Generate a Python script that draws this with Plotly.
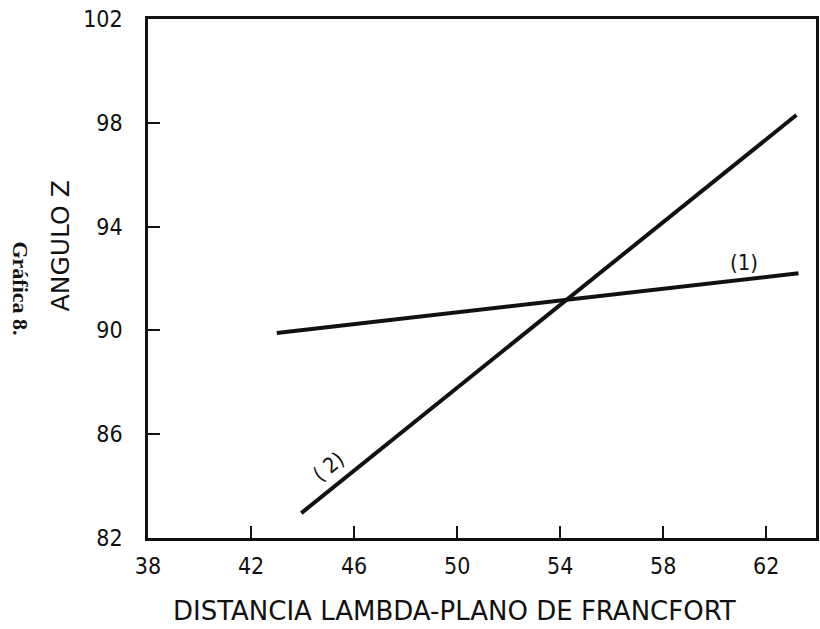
import plotly.graph_objects as go

# Regression lines: Angulo Z vs. distancia lambda-plano de Francfort
line1_x = [43.0, 63.25]
line1_y = [89.9, 92.2]
line2_x = [43.95, 63.17]
line2_y = [82.96, 98.3]

x_ticks = [38, 42, 46, 50, 54, 58, 62]
y_ticks = [82, 86, 90, 94, 98, 102]

INK = "#111111"
TICKFONT = "DejaVu Sans Condensed, Liberation Sans Narrow, sans-serif"
TITLEFONT = "DejaVu Sans, sans-serif"

fig = go.Figure()
for xs, ys in [(line1_x, line1_y), (line2_x, line2_y)]:
    fig.add_trace(go.Scatter(x=xs, y=ys, mode="lines",
                             line=dict(color=INK, width=4),
                             showlegend=False, hoverinfo="skip"))

axis_common = dict(
    showgrid=False, zeroline=False, showline=True, linecolor=INK,
    linewidth=2.5, mirror=True, ticks="inside", tickcolor=INK,
    tickwidth=1.5, ticklen=12,
    tickfont=dict(family=TICKFONT, size=23, color=INK),
)

fig.update_xaxes(range=[38, 63.93], tickvals=x_ticks,
                 ticktext=[str(v) for v in x_ticks],
                 ticklabelstandoff=6, **axis_common)
fig.update_yaxes(range=[82, 102], tickvals=y_ticks,
                 ticktext=[str(v) for v in y_ticks],
                 ticklabelstandoff=18, **axis_common)

annotations = [
    # series labels
    dict(x=61.15, y=92.6, xref="x", yref="y", text="(1)", showarrow=False,
         font=dict(family=TICKFONT, size=22, color=INK)),
    dict(x=45.0, y=84.75, xref="x", yref="y", text="( 2)", showarrow=False,
         textangle=-38.6, font=dict(family=TICKFONT, size=21, color=INK)),
    # axis titles
    dict(x=456, y=611, text="DISTANCIA LAMBDA-PLANO DE FRANCFORT",
         showarrow=False, font=dict(family=TITLEFONT, size=26, color=INK)),
    dict(x=60, y=246, text="ANGULO Z", showarrow=False, textangle=-90,
         font=dict(family=TITLEFONT, size=25, color=INK)),
    # figure caption
    dict(x=19, y=288, text="<b>Gráfica 8.</b>", showarrow=False, textangle=90,
         font=dict(family="Liberation Serif, serif", size=22, color=INK)),
]

# place titles and caption in pixel terms, converted to paper coordinates
W, H = 820, 629
L, R, T, B = 148, 1, 19, 91
pw, ph = W - L - R, H - T - B
for a in annotations[2:]:
    a["x"] = (a["x"] - L) / pw
    a["y"] = 1 - (a["y"] - T) / ph
    a["xref"] = "paper"
    a["yref"] = "paper"
    a["xanchor"] = "center"
    a["yanchor"] = "middle"

fig.update_layout(
    width=W, height=H,
    margin=dict(l=L, r=R, t=T, b=B),
    paper_bgcolor="white", plot_bgcolor="white",
    annotations=annotations,
)

fig.write_html("out.html")
